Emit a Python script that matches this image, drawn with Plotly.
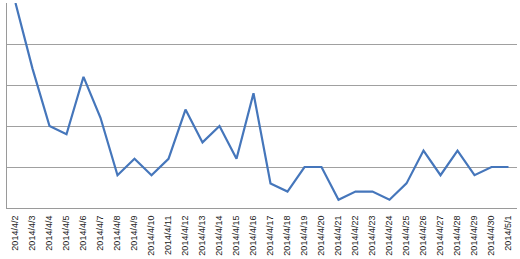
import plotly.graph_objects as go

dates = ["2014/4/2", "2014/4/3", "2014/4/4", "2014/4/5", "2014/4/6", "2014/4/7", "2014/4/8",
         "2014/4/9", "2014/4/10", "2014/4/11", "2014/4/12", "2014/4/13", "2014/4/14", "2014/4/15",
         "2014/4/16", "2014/4/17", "2014/4/18", "2014/4/19", "2014/4/20", "2014/4/21", "2014/4/22",
         "2014/4/23", "2014/4/24", "2014/4/25", "2014/4/26", "2014/4/27", "2014/4/28", "2014/4/29",
         "2014/4/30", "2014/5/1"]
values = [25, 17, 10, 9, 16, 11, 4, 6, 4, 6, 12, 8, 10, 6, 14, 3, 2, 5, 5, 1, 2, 2, 1, 3, 7, 4, 7, 4, 5, 5]

fig = go.Figure(go.Scatter(
    x=dates, y=values, mode="lines",
    line=dict(color="#4576BB", width=2.2),
))

fig.update_layout(
    width=520, height=259,
    margin=dict(l=7, r=3, t=3, b=51),
    paper_bgcolor="white", plot_bgcolor="white",
    showlegend=False,
    font=dict(family="Liberation Sans, Arial, sans-serif", size=9, color="#222222"),
)
fig.update_xaxes(
    type="category", tickangle=-90, showgrid=False,
    range=[-0.5, len(dates) - 0.5],
    showline=True, linecolor="#9a9a9a", linewidth=1,
    ticks="outside", ticklen=3, tickcolor="white", tickfont=dict(size=9),
)
fig.update_yaxes(
    range=[0, 25], showticklabels=False, dtick=5,
    showgrid=True, gridcolor="#a0a0a0", gridwidth=1,
    showline=True, linecolor="#9a9a9a", linewidth=1,
    zeroline=False,
)

fig.write_html("out.html")
